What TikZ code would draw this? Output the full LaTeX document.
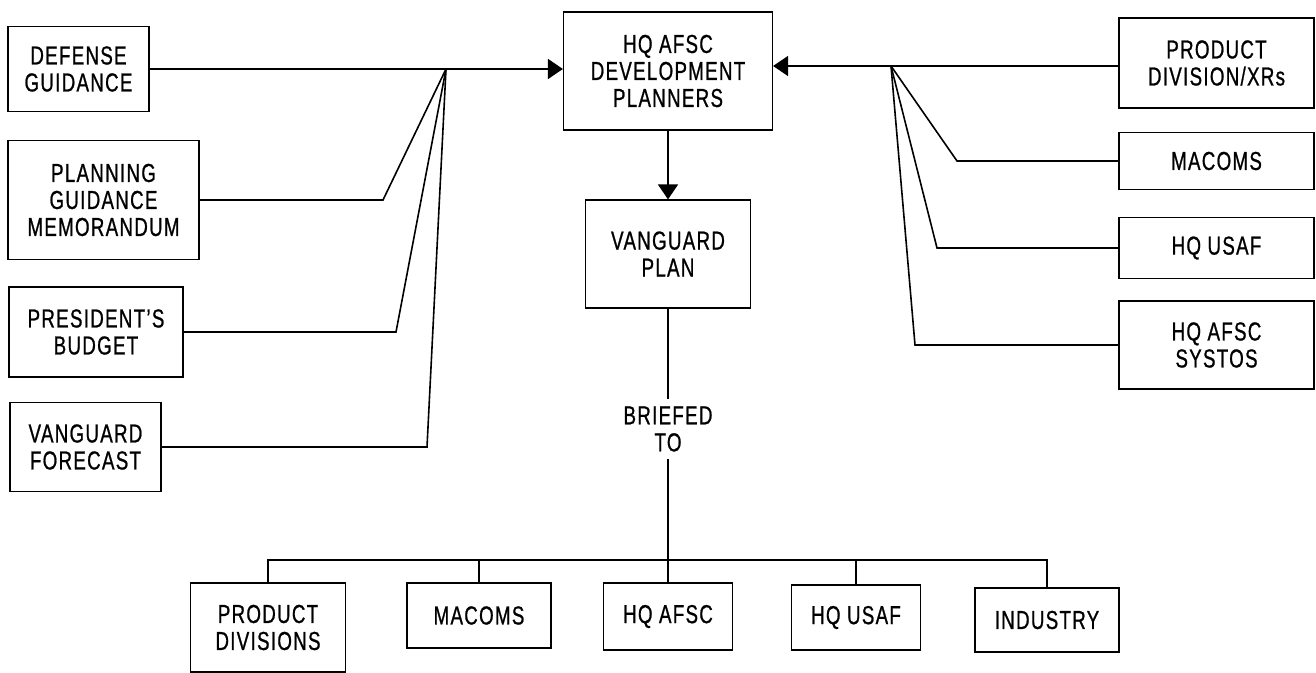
\documentclass[tikz,border=0pt]{standalone}
\usepackage{fontspec}
\setmainfont{Liberation Sans}[FakeStretch=0.72,LetterSpace=5,FakeBold=0.8]
\usetikzlibrary{arrows.meta}
\begin{document}
\begin{tikzpicture}[x=0.5pt,y=-0.5pt,
  box/.style={draw,line width=0.6pt,align=center,inner sep=0pt,font=\fontsize{13}{13.5}\selectfont},
  conn/.style={line width=0.8pt},
  arr/.style={conn,-{Triangle[length=7.5pt,width=10pt]}},
  lbl/.style={align=center,inner sep=0pt,minimum height=30pt,font=\fontsize{13}{13.5}\selectfont}]
\useasboundingbox (0,0) rectangle (1316,673);
% left inputs
\node[box,minimum width=70.5pt,minimum height=42.5pt] (def) at (78.5,69) {DEFENSE\\GUIDANCE};
\node[box,minimum width=95.5pt,minimum height=59.5pt] (pgm) at (103.5,200) {PLANNING\\GUIDANCE\\MEMORANDUM};
\node[box,minimum width=87pt,minimum height=45pt] (pb) at (96,332) {PRESIDENT'S\\BUDGET};
\node[box,minimum width=75.5pt,minimum height=44.5pt] (vf) at (85.5,447) {VANGUARD\\FORECAST};
% centre
\node[box,minimum width=104.5pt,minimum height=59pt] (hq) at (668,71) {HQ AFSC\\DEVELOPMENT\\PLANNERS};
\node[box,minimum width=82.5pt,minimum height=54pt] (vp) at (668,254) {VANGUARD\\PLAN};
\node[lbl] (brief) at (668,429) {BRIEFED\\TO};
% right inputs
\node[box,minimum width=97.5pt,minimum height=45pt] (pdx) at (1216.5,63) {PRODUCT\\DIVISION/XRs};
\node[box,minimum width=97.5pt,minimum height=28.5pt] (mac) at (1216.5,161) {MACOMS};
\node[box,minimum width=97.5pt,minimum height=30.5pt] (usaf) at (1216.5,248) {HQ USAF};
\node[box,minimum width=97.5pt,minimum height=44pt] (systos) at (1216.5,345) {HQ AFSC\\SYSTOS};
% bottom
\node[box,minimum width=77.5pt,minimum height=44.5pt] (pd) at (268,627.5) {PRODUCT\\DIVISIONS};
\node[box,minimum width=72pt,minimum height=32.5pt] (mc) at (479,615.5) {MACOMS};
\node[box,minimum width=64.5pt,minimum height=33.5pt] (ha) at (668,616.5) {HQ AFSC};
\node[box,minimum width=64.5pt,minimum height=32.5pt] (hu) at (856,617.5) {HQ USAF};
\node[box,minimum width=72pt,minimum height=32pt] (ind) at (1047,620) {INDUSTRY};
% junctions and bends
\coordinate (jl) at (446,69);
\coordinate (jr) at (891,66);
\coordinate (b1) at (383,200);
\coordinate (b2) at (396,332);
\coordinate (b3) at (427,447);
\coordinate (c1) at (957,161);
\coordinate (c2) at (937,248);
\coordinate (c3) at (915,345);
\coordinate (bus) at (668,560);
% left connectors
\draw[arr] (def.east |- jl) -- (hq.west |- jl);
\draw[conn] (pgm.east) -- (b1) -- (jl);
\draw[conn] (pb.east) -- (b2) -- (jl);
\draw[conn] (vf.east) -- (b3) -- (jl);
% right connectors
\draw[arr] (pdx.west |- jr) -- (hq.east |- jr);
\draw[conn] (mac.west) -- (c1) -- (jr);
\draw[conn] (usaf.west) -- (c2) -- (jr);
\draw[conn] (systos.west) -- (c3) -- (jr);
% centre flow
\draw[arr] (hq.south) -- (vp.north);
\draw[conn] (vp.south) -- (brief.north);
\draw[conn] (brief.south) -- (bus);
\draw[conn] (pd.north) -- (pd.north |- bus) -- (ind.north |- bus) -- (ind.north);
\draw[conn] (mc.north) -- (mc.north |- bus);
\draw[conn] (ha.north) -- (bus);
\draw[conn] (hu.north) -- (hu.north |- bus);
\end{tikzpicture}
\end{document}
